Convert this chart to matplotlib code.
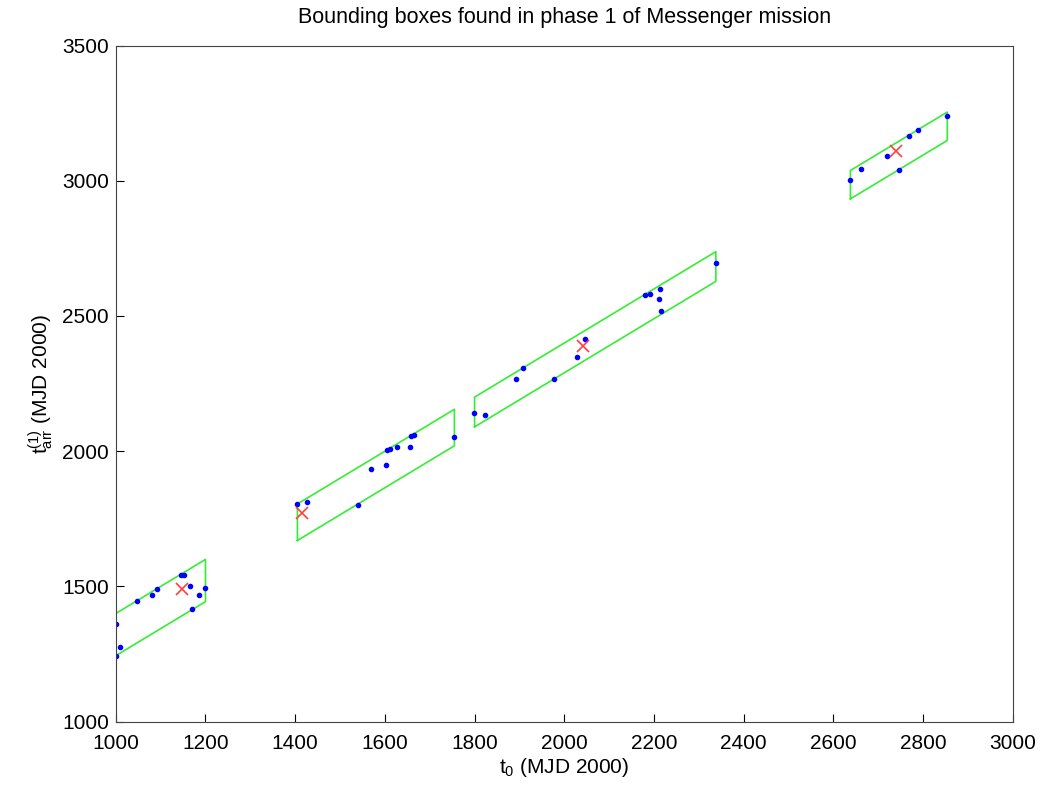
import numpy as np
import matplotlib.pyplot as plt

plt.rcParams['font.family'] = ['Liberation Sans', 'DejaVu Sans']
plt.rcParams['mathtext.default'] = 'regular'

# bounding boxes: departure window and time of flight window
box_t0_lo = [1000, 1405, 1800, 2638]
box_t0_hi = [1200, 1755, 2338, 2854]
box_tof_lo = [244, 265, 290, 295]
box_tof_hi = [400, 400, 400, 400]

# solutions found (t0, t_arr)
pts_t0 = [1000, 1010, 1000, 1047, 1081, 1091, 1146, 1152, 1166, 1186, 1198, 1171,
          1404, 1427, 1541, 1568, 1603, 1604, 1612, 1626, 1655, 1658, 1664, 1755,
          1798, 1823, 1893, 1909, 1978, 2028, 2046, 2179, 2192, 2214, 2211, 2216, 2338,
          2637, 2661, 2719, 2746, 2768, 2789, 2854]
pts_tarr = [1244, 1276, 1360, 1446, 1469, 1490, 1543, 1542, 1501, 1468, 1493, 1416,
            1805, 1813, 1803, 1933, 1949, 2003, 2010, 2016, 2014, 2057, 2060, 2051,
            2143, 2135, 2266, 2308, 2266, 2350, 2414, 2578, 2582, 2599, 2562, 2517, 2695,
            3001, 3043, 3091, 3040, 3167, 3187, 3241]

# best point in each box
best_t0 = [1148, 1416, 2041, 2739]
best_tarr = [1490, 1772, 2388, 3109]

fig = plt.figure(figsize=(10.43, 7.89), dpi=100)
ax = fig.add_axes([0.111, 0.0853, 0.860, 0.857])

for a, b, lo, hi in zip(box_t0_lo, box_t0_hi, box_tof_lo, box_tof_hi):
    xs = [a, b, b, a, a]
    ys = [a + lo, b + lo, b + hi, a + hi, a + lo]
    ax.plot(xs, ys, color='#33ee33', lw=1.2)

ax.plot(pts_t0, pts_tarr, '.', color='#0000ff', ms=6)
ax.plot(best_t0, best_tarr, 'x', color='#ff4040', ms=9, mew=1.2)

ax.set_xlim(1000, 3000)
ax.set_ylim(1000, 3500)
ax.set_xticks(np.arange(1000, 3001, 200))
ax.set_yticks(np.arange(1000, 3501, 500))
ax.tick_params(direction='in', length=6, labelsize=15, top=False, right=False)
ax.tick_params(axis='x', pad=9)
ax.tick_params(axis='y', pad=5)
for s in ax.spines.values():
    s.set_color('#444444')

ax.set_title('Bounding boxes found in phase 1 of Messenger mission', fontsize=15.5, pad=16)
ax.set_xlabel('$t_0$ (MJD 2000)', fontsize=15, labelpad=2)
ax.set_ylabel('$t_{arr}^{(1)}$ (MJD 2000)', fontsize=15, labelpad=4)

fig.savefig('out.png', dpi=100)
